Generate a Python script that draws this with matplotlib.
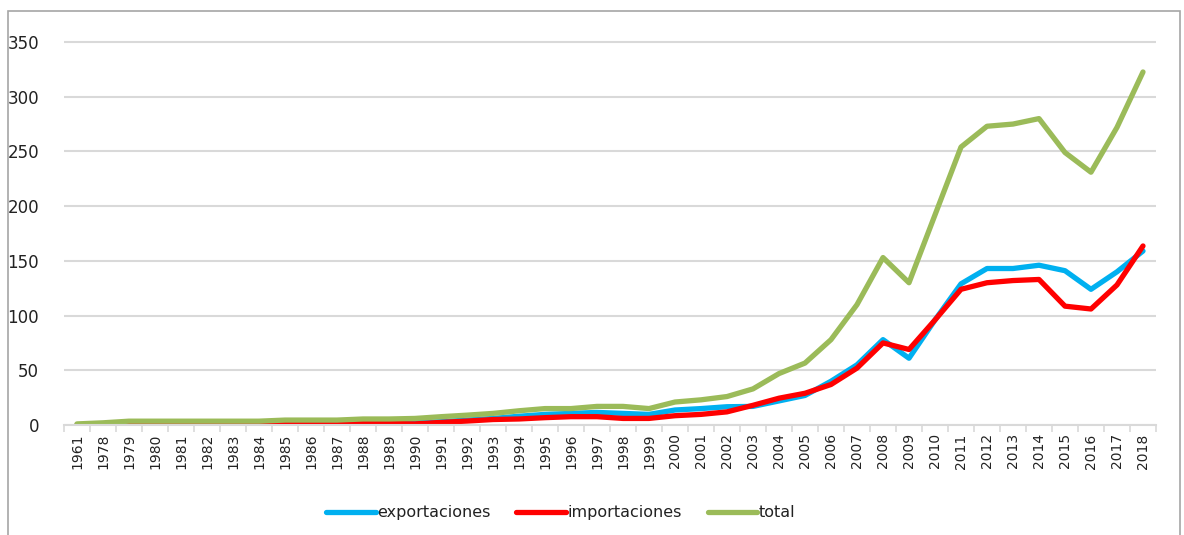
import matplotlib.pyplot as plt
from matplotlib.patches import Rectangle

# Data
years = ["1961"] + [str(y) for y in range(1978, 2019)]

exportaciones = [0, 0, 0, 0, 0, 0, 0, 0, 0.3, 0.3, 0.3, 0.8, 1, 2,
                 3, 4.5, 6, 8, 9.7, 10.6, 11.5, 10.6, 9.7, 13.7, 15, 16.7,
                 17, 22, 27, 40, 55, 78, 61, 96, 129, 143, 143, 146,
                 141, 124, 140, 159]
importaciones = [0, 0, 0, 0, 0, 0, 0, 0, 0.8, 0.8, 0.8, 1.5, 1.5, 1,
                 2.4, 3.6, 5, 5.5, 6.7, 7.6, 7.6, 6, 6, 8.5, 9.7, 12,
                 18, 24.5, 29, 37, 52, 75, 69, 96, 124, 130, 132, 133,
                 108.6, 106, 128, 163.6]
total = [1, 2, 3.5, 3.5, 3.5, 3.5, 3.5, 3.5, 4.5, 4.5, 4.5, 5.5, 5.5, 6,
         7.6, 9, 10.6, 13, 15, 15, 17, 17, 15, 21, 23, 26,
         33, 47, 56.6, 78, 110, 153, 130, 192, 254, 273, 275, 280,
         249, 231, 272, 322.6]

fig = plt.figure(figsize=(11.84, 5.35), dpi=100)
# top a little above the 350 line so the gridline isn't clipped
ax = fig.add_axes([64 / 1184, 1 - 425 / 535, 1092 / 1184, 385.2 / 535])

x = range(len(years))
ax.plot(x, exportaciones, color="#00B0F0", lw=3.8, label="exportaciones", solid_capstyle="round")
ax.plot(x, importaciones, color="#FF0000", lw=3.8, label="importaciones", solid_capstyle="round")
ax.plot(x, total, color="#9BBB59", lw=3.8, label="total", solid_capstyle="round")

ax.set_xlim(-0.5, len(years) - 0.5)
ax.set_ylim(0, 352)
ax.set_yticks(range(0, 351, 50))
ax.yaxis.grid(True, color="#d9d9d9", lw=1.5)
ax.set_axisbelow(True)
ax.tick_params(axis="y", length=0, labelsize=12, pad=18, labelcolor="#222222")

ax.set_xticks(list(x))
ax.set_xticklabels(years, rotation=90, fontsize=10, color="#222222")
ax.set_xticks([i - 0.5 for i in range(len(years) + 1)], minor=True)
ax.tick_params(axis="x", which="major", length=0, pad=6)
ax.tick_params(axis="x", which="minor", length=5, color="#d9d9d9", width=1.2)

for s in ["top", "right", "left"]:
    ax.spines[s].set_visible(False)
ax.spines["bottom"].set_color("#d9d9d9")
ax.spines["bottom"].set_linewidth(1.5)

ax.legend(loc="center", bbox_to_anchor=(0.455, -0.228), ncol=3, frameon=False,
          fontsize=11.5, handlelength=3.1, handletextpad=0.1, columnspacing=1.6,
          labelcolor="#222222")

fig.patches.append(Rectangle((8 / 1184, -0.1), 1172 / 1184, 1.1 - 11 / 535,
                             transform=fig.transFigure, fill=False,
                             edgecolor="#a6a6a6", lw=1.2))

fig.savefig("out.png", dpi=100)
